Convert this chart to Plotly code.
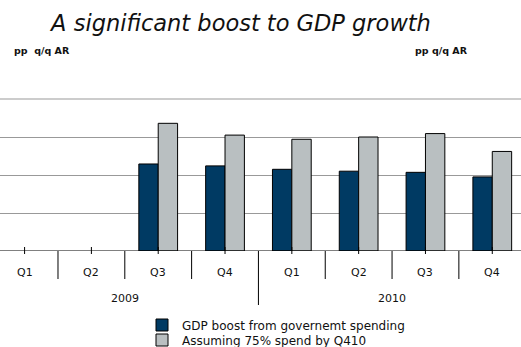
import plotly.graph_objects as go

quarters = ["Q1", "Q2", "Q3", "Q4", "Q1", "Q2", "Q3", "Q4"]
years = ["2009", "2010"]
gdp_boost = [None, None, 2.29, 2.24, 2.15, 2.10, 2.07, 1.95]
assuming_75 = [None, None, 3.36, 3.05, 2.94, 3.00, 3.09, 2.62]

DARK = "#003A63"
GRAY = "#B9BFC1"
FONT = "DejaVu Sans"

x = list(range(len(quarters)))

fig = go.Figure()
fig.add_trace(go.Bar(x=x, y=gdp_boost, name="GDP boost from governemt spending",
                     legend="legend",
                     marker=dict(color=DARK, line=dict(color="black", width=1))))
fig.add_trace(go.Bar(x=x, y=assuming_75, name="Assuming 75% spend by Q410",
                     legend="legend2",
                     marker=dict(color=GRAY, line=dict(color="black", width=1))))

W, H = 521, 347
top, bottom = 99, 251
ph = bottom - top

def py(px):
    return (bottom - px) / ph

shapes = []
# top gridline at the upper edge of the plot area
shapes.append(dict(type="line", xref="paper", yref="paper", x0=0, x1=1, y0=1, y1=1,
                   line=dict(color="#999999", width=1), layer="below"))
shapes.append(dict(type="line", xref="paper", yref="y", x0=0, x1=1, y0=0, y1=0,
                   line=dict(color="black", width=1)))
for i in x:
    shapes.append(dict(type="line", xref="x", yref="paper", x0=i, x1=i,
                       y0=py(247), y1=py(254), line=dict(color="black", width=1)))
for i in range(len(quarters) - 1):
    b = i + 0.5
    y1 = py(305) if i == 3 else py(279)
    shapes.append(dict(type="line", xref="x", yref="paper", x0=b, x1=b,
                       y0=0, y1=y1, line=dict(color="black", width=1)))

ann = []
for i, q in enumerate(quarters):
    ann.append(dict(x=i, y=py(272), xref="x", yref="paper", text=q, showarrow=False,
                    font=dict(family=FONT, size=11, color="#111"), yanchor="middle"))
for k, yr in enumerate(years):
    ann.append(dict(x=1.5 + 4 * k, y=py(298), xref="x", yref="paper", text=yr, showarrow=False,
                    font=dict(family=FONT, size=11, color="#111"), yanchor="middle"))
ann.append(dict(x=12 / W, y=py(51), xref="paper", yref="paper", xanchor="left",
                yanchor="middle", text="<b>pp  q/q AR</b>", showarrow=False,
                font=dict(family=FONT, size=9.5, color="#111")))
ann.append(dict(x=413 / W, y=py(51), xref="paper", yref="paper", xanchor="left",
                yanchor="middle", text="<b>pp q/q AR</b>", showarrow=False,
                font=dict(family=FONT, size=9.5, color="#111")))

legend_common = dict(x=142 / W, xanchor="left", yanchor="middle", orientation="v",
                     xref="container", yref="container",
                     font=dict(family=FONT, size=12, color="#111"),
                     bgcolor="rgba(0,0,0,0)", itemwidth=30, tracegroupgap=0)

fig.update_layout(
    width=W, height=H,
    margin=dict(l=0, r=0, t=top, b=H - bottom, autoexpand=False),
    paper_bgcolor="white", plot_bgcolor="white",
    barmode="group", bargap=0.42, bargroupgap=0,
    title=dict(text="<i>A significant boost to GDP growth</i>", x=241 / W, xanchor="center",
               y=1 - 23 / H, yanchor="middle",
               font=dict(family=FONT, size=22.5, color="#111")),
    xaxis=dict(range=[-0.368, 7.43], showticklabels=False, showgrid=False, zeroline=False,
               ticks="", showline=False, fixedrange=True),
    yaxis=dict(range=[0, 4], dtick=1, showticklabels=False, showgrid=True,
               gridcolor="#999999", gridwidth=1, zeroline=False, ticks="", showline=False),
    showlegend=True,
    legend=dict(legend_common, y=1 - 325 / H),
    legend2=dict(legend_common, y=1 - 340 / H),
    shapes=shapes, annotations=ann,
)

fig.write_html("out.html")
